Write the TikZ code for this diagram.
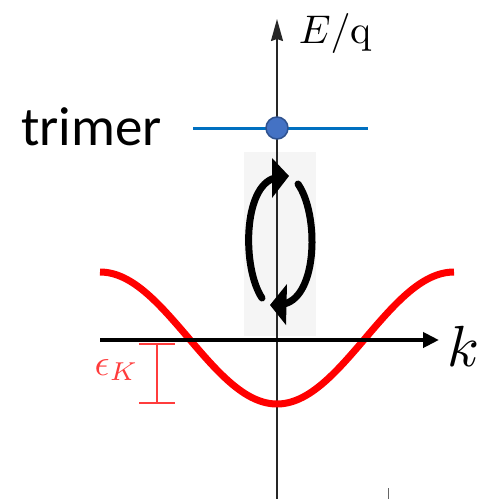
\documentclass[tikz,border=0pt]{standalone}
\usepackage{fontspec}
\newfontfamily\calibri{Carlito}
\usetikzlibrary{arrows.meta}
\definecolor{levelblue}{RGB}{0,112,192}
\definecolor{dotfill}{RGB}{68,114,196}
\definecolor{dotedge}{RGB}{47,82,143}
\definecolor{bandred}{RGB}{255,0,0}
\definecolor{barred}{RGB}{255,60,60}
\tikzset{
  axisline/.style={line width=1.8pt,draw=black!85},
  kaxis/.style={line width=4pt,draw=black},
  cyclearc/.style={line width=7pt,line cap=round},
  cyclehead/.style={fill=black},
  bandline/.style={line width=7pt,draw=bandred},
  gapbar/.style={line width=1.5pt,draw=barred},
  mathlabel/.style={anchor=base west,inner sep=0pt},
}
\begin{document}
\begin{tikzpicture}[x=1pt,y=-1pt]
\useasboundingbox (0,0) rectangle (479,499);
% shaded strip
\fill[gray!8] (244,152) rectangle (316,336);
% vertical axis
\coordinate (vbot) at (277,499);
\coordinate (vtop) at (277,19);
\draw[axisline,-{Stealth[length=22pt,width=12pt,inset=2pt]}] (vbot) -- (vtop);
\node[mathlabel,scale=4] (elabel) at (298,43) {$E/\mathrm{q}$};
% trimer level
\coordinate (tl) at (193,128);
\coordinate (tr) at (368,128);
\draw[levelblue,line width=3pt] (tl) -- (tr);
\node[circle,fill=dotfill,draw=dotedge,line width=1.5pt,minimum size=22pt,inner sep=0pt] (dot) at (277,128) {};
\node[anchor=base west,font=\calibri\fontsize{55}{60}\selectfont,inner sep=0pt] (trimer) at (21,145) {trimer};
% circular arrows
\coordinate (la) at (262,298);
\coordinate (lb) at (275,178);
\coordinate (ra) at (298,184);
\coordinate (rb) at (284,304);
\draw[cyclearc] (la) .. controls (242,268) and (243,186) .. (lb);
\draw[cyclearc] (ra) .. controls (319,214) and (318,296) .. (rb);
\fill[cyclehead] (272,158) -- (289,176) -- (272,198) -- cycle;
\fill[cyclehead] (287,284) -- (270,305) -- (286,325) -- cycle;
% band
\draw[bandline] plot[domain=100:454,samples=120] (\x,{338+66*cos(1.016949*(\x-277))});
% k axis
\coordinate (kl) at (100,340);
\coordinate (kr) at (439,340);
\draw[kaxis,-{Triangle[length=16pt,width=15pt]}] (kl) -- (kr);
\node[mathlabel,scale=5.8] (klabel) at (446,366) {$k$};
% epsilon_K bar
\coordinate (gt) at (157,344);
\coordinate (gb) at (157,403);
\draw[gapbar] (gt) -- (gb);
\draw[gapbar] (139,344) -- (175,344);
\draw[gapbar] (139,403) -- (175,403);
\node[mathlabel,text=barred,scale=3.7] (eps) at (94,375) {$\epsilon_K$};
% small tick at bottom
\draw[black!60,line width=1pt] (388,488) -- (388,499);
\end{tikzpicture}
\end{document}
